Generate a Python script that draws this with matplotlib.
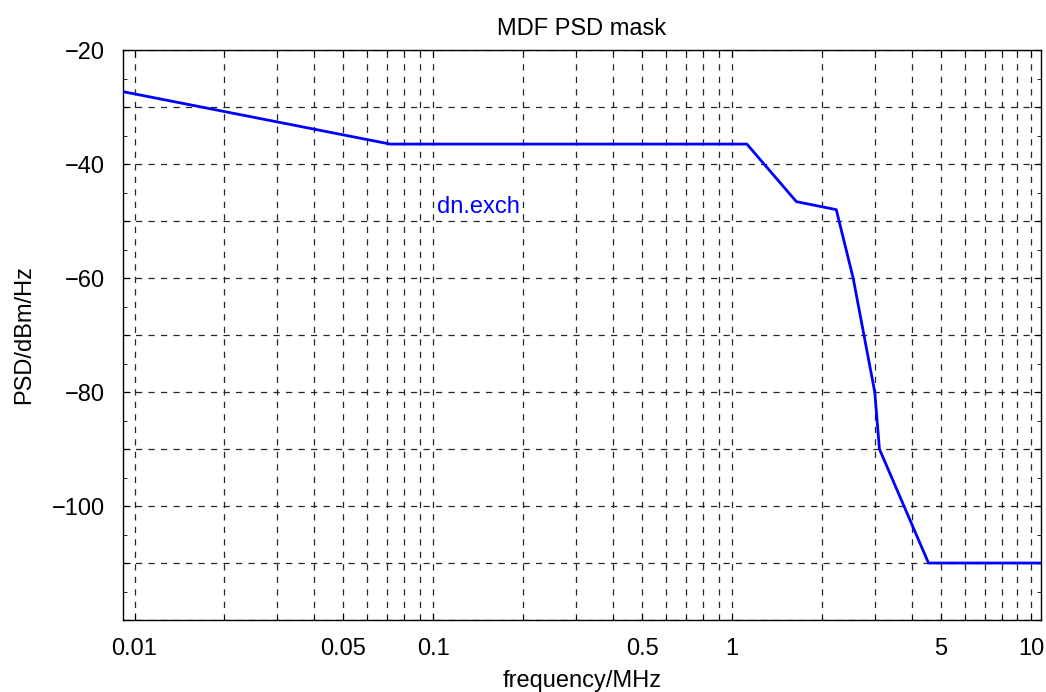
import matplotlib
matplotlib.use("Agg")
import matplotlib.pyplot as plt
from matplotlib.ticker import FixedLocator, LogLocator, MultipleLocator, FuncFormatter, NullFormatter

plt.rcParams["font.family"] = ["Liberation Sans", "DejaVu Sans"]

# MDF PSD mask breakpoints (MHz, dBm/Hz)
freq_mhz = [0.00915, 0.0717, 1.12, 1.64, 2.23, 2.54, 3.0, 3.11, 4.54, 10.8]
psd_dbm = [-27.3, -36.5, -36.5, -46.6, -48.0, -60.0, -80.0, -90.0, -110.0, -110.0]

xtick_vals = [0.01, 0.05, 0.1, 0.5, 1, 5, 10]
xtick_text = ["0.01", "0.05", "0.1", "0.5", "1", "5", "10"]
ytick_labelled = [-20, -40, -60, -80, -100]

fig = plt.figure(figsize=(10.46, 6.92), dpi=100)
ax = fig.add_axes([0.1176, 0.104, 0.8776, 0.8237])

ax.plot(freq_mhz, psd_dbm, color="#0000ff", lw=2.0, zorder=3)
ax.text(0.103, -47.5, "dn.exch", color="#0000ff", fontsize=17,
        ha="left", va="center")

ax.set_xscale("log")
ax.set_xlim(freq_mhz[0], freq_mhz[-1])
ax.set_ylim(-120, -20)

ax.xaxis.set_major_locator(FixedLocator(xtick_vals))
ax.xaxis.set_major_formatter(FuncFormatter(
    lambda v, p: xtick_text[xtick_vals.index(v)] if v in xtick_vals else ""))
ax.xaxis.set_minor_locator(LogLocator(base=10, subs=range(1, 10), numticks=20))
ax.xaxis.set_minor_formatter(NullFormatter())

ax.yaxis.set_major_locator(MultipleLocator(10))
ax.yaxis.set_major_formatter(FuncFormatter(
    lambda v, p: f"\u2212{abs(int(round(v)))}" if int(round(v)) in ytick_labelled else ""))
ax.yaxis.set_minor_locator(MultipleLocator(5))

ax.grid(True, which="major", axis="y", color="0.15", ls=(0, (5, 5)), lw=0.9)
ax.grid(True, which="both", axis="x", color="0.15", ls=(0, (5, 5)), lw=0.9)

ax.tick_params(which="both", direction="in", top=True, right=True,
               labelsize=17, pad=13)
ax.tick_params(which="major", length=5)
ax.tick_params(which="minor", length=3)
for sp in ax.spines.values():
    sp.set_color("black")
    sp.set_linewidth(1.0)

ax.set_title("MDF PSD mask", fontsize=17, pad=11)
ax.set_xlabel("frequency/MHz", fontsize=17, labelpad=7)
ax.set_ylabel("PSD/dBm/Hz", fontsize=17, labelpad=12)

fig.savefig("out.png", dpi=100)
